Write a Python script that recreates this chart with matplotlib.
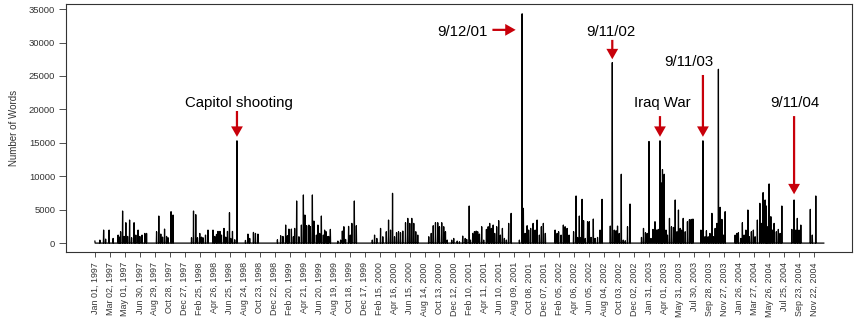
import matplotlib
matplotlib.use("Agg")
import matplotlib.pyplot as plt
import numpy as np

plt.rcParams['font.family'] = ['Liberation Sans', 'DejaVu Sans']

# dias contados a partir de 01/01/1997 (calendario de 365 dias)
n_days = 2920

spike_day = [
    0, 20, 35, 43, 57, 73, 93, 99, 103, 111, 117, 124, 131, 139, 147, 157, 164, 173, 180, 189, 200, 207,
    247, 256, 264, 271, 279, 287, 293, 305, 313,
    387, 395, 404, 411, 420, 427, 433, 443,
    453, 473, 480, 487, 493, 501, 507, 517, 524, 531, 539, 544, 551, 560, 569,
    603, 613, 620, 635, 643, 653,
    731, 744, 753, 764, 771, 777, 787, 795, 800, 808, 817, 827, 835, 841, 848, 857, 863, 871, 877,
    887, 893, 900, 907, 915, 920, 926, 931, 936, 943,
    973, 984, 991, 997, 1004, 1016, 1023, 1029, 1039, 1047,
    1111, 1120, 1129, 1144, 1153, 1167, 1176, 1184, 1192, 1200, 1208, 1216, 1224, 1233, 1244, 1253,
    1261, 1269, 1277, 1285, 1293,
    1337, 1347, 1355, 1364, 1373, 1380, 1389, 1397, 1404, 1411,
    1429, 1437, 1451, 1460, 1473, 1483, 1489, 1499, 1504, 1513, 1520, 1527, 1533, 1540, 1549, 1557,
    1568, 1575, 1581, 1588, 1595, 1601, 1609, 1617, 1624, 1632, 1640, 1648, 1657, 1667,
    1700, 1711, 1716, 1723, 1731, 1737, 1745, 1755, 1763, 1771, 1780, 1788, 1796, 1804,
    1843, 1851, 1857, 1867, 1876, 1883, 1891, 1899,
    1917, 1927, 1933, 1940, 1947, 1951, 1957, 1964, 1973, 1980, 1987, 1996, 2003, 2013, 2023, 2031,
    2064, 2072, 2080, 2087, 2093, 2100, 2108, 2116, 2124, 2133, 2143,
    2189, 2197, 2205, 2212, 2219, 2227, 2235, 2243, 2249, 2256, 2263, 2268, 2273, 2280, 2287, 2293,
    2301, 2309, 2317, 2324, 2331, 2337, 2344, 2349, 2356, 2364, 2373, 2381, 2388, 2395,
    2427, 2435, 2443, 2449, 2456, 2463, 2471, 2477, 2484, 2491, 2497, 2504, 2511, 2517, 2524,
    2564, 2571, 2577, 2587, 2593, 2600, 2607, 2615, 2621, 2629, 2637, 2644, 2653, 2663, 2669, 2676,
    2684, 2689, 2695, 2700, 2707, 2713, 2720, 2729, 2737, 2744, 2751,
    2791, 2800, 2807, 2813, 2820, 2827,
    2865, 2873, 2887,
]

spike_words = [
    300, 450, 1950, 600, 1950, 700, 1200, 900, 1700, 4800, 1000, 3050, 1000, 3450, 800, 3050, 1200, 1950, 1000, 1200, 1450, 1450,
    1700, 4050, 1350, 900, 2100, 1000, 800, 4700, 4200,
    800, 4800, 4250, 800, 1450, 900, 800, 1200,
    1950, 1950, 1000, 1300, 1750, 1750, 1200, 2200, 900, 1750, 4550, 700, 1750, 500, 15300,
    400, 1350, 700, 1600, 1450, 1350,
    500, 1100, 1000, 2700, 1100, 2100, 2100, 950, 2200, 6300, 950, 2700, 7200, 4200, 2600, 2700, 2450, 7200, 3300,
    1200, 2700, 1450, 4050, 1200, 1950, 1700, 950, 1000, 2050,
    300, 450, 1800, 2450, 550, 2500, 1200, 2950, 6300, 2600,
    450, 1200, 700, 2200, 950, 1700, 3450, 1950, 7450, 950, 1550, 1700, 1550, 1800, 3050, 3700,
    2950, 3700, 2950, 1700, 1200,
    950, 1450, 2600, 3050, 3050, 2450, 3050, 2450, 1700, 450,
    450, 700, 300, 200, 1050, 700, 550, 5550, 450, 1450, 1700, 1800, 1700, 1350, 2450, 450,
    2050, 2450, 2950, 2200, 2700, 1450, 2450, 3350, 1200, 2200, 700, 450, 2950, 4450,
    450, 34300, 5200, 1450, 2600, 1950, 2200, 2950, 1950, 3450, 1200, 2450, 2950, 1450,
    1950, 1450, 1700, 1200, 2700, 2450, 2200, 1200,
    1700, 7050, 850, 4050, 850, 6550, 3350, 700, 3200, 3200, 850, 3600, 700, 850, 1950, 6550,
    2550, 27000, 1950, 1850, 2550, 1450, 10300, 450, 350, 2450, 5850,
    850, 2200, 1550, 1450, 15200, 700, 2050, 3200, 1950, 2050, 15300, 9000, 11000, 10300, 1950, 1200,
    3700, 2450, 2350, 6450, 1700, 4950, 2200, 1950, 3700, 1700, 3200, 3500, 3550, 3600,
    1950, 15300, 950, 1850, 950, 1450, 4450, 950, 2200, 2950, 26000, 5350, 3550, 1200, 4700,
    1200, 1450, 1550, 700, 3050, 1200, 1950, 4950, 950, 1700, 1950, 950, 3450, 5950, 2950, 7550,
    6450, 5550, 2450, 8850, 3950, 1950, 2950, 1700, 2050, 1450, 5550,
    2050, 6450, 1950, 3700, 1950, 2700,
    5050, 1200, 7050,
]

tick_labels = [
    "Jan 01, 1997", "Mar 02, 1997", "May 01, 1997", "Jun 30, 1997", "Aug 29, 1997", "Oct 28, 1997",
    "Dec 27, 1997", "Feb 25, 1998", "Apr 26, 1998", "Jun 25, 1998", "Aug 24, 1998", "Oct 23, 1998",
    "Dec 22, 1998", "Feb 20, 1999", "Apr 21, 1999", "Jun 20, 1999", "Aug 19, 1999", "Oct 18, 1999",
    "Dec 17, 1999", "Feb 15, 2000", "Apr 16, 2000", "Jun 15, 2000", "Aug 14, 2000", "Oct 13, 2000",
    "Dec 12, 2000", "Feb 10, 2001", "Apr 11, 2001", "Jun 10, 2001", "Aug 09, 2001", "Oct 08, 2001",
    "Dec 07, 2001", "Feb 05, 2002", "Apr 06, 2002", "Jun 05, 2002", "Aug 04, 2002", "Oct 03, 2002",
    "Dec 02, 2002", "Jan 31, 2003", "Apr 01, 2003", "May 31, 2003", "Jul 30, 2003", "Sep 28, 2003",
    "Nov 27, 2003", "Jan 26, 2004", "Mar 27, 2004", "May 26, 2004", "Jul 25, 2004", "Sep 23, 2004",
    "Nov 22, 2004",
]

# eventos anotados: (texto, dia do pico)
event_text = ["Capitol shooting", "9/12/01", "9/11/02", "Iraq War", "9/11/03", "9/11/04"]
event_day = [569, 1711, 2072, 2263, 2435, 2800]

RED = '#c8000a'

words = np.zeros(n_days)
words[spike_day] = spike_words

fig = plt.figure(figsize=(8.55, 3.3), dpi=100)
ax = fig.add_axes([0.0768, 0.237, 0.9197, 0.7495])

ax.plot(np.arange(n_days), words, color='black', linewidth=0.9)

ax.set_xlim(-117, 3032)
ax.set_ylim(-1300, 35700)

ax.set_xticks(np.arange(len(tick_labels)) * 60)
ax.set_xticklabels(tick_labels, rotation=90, fontsize=6.4, color='#333333')
ax.set_yticks(np.arange(0, 35001, 5000))
ax.set_yticklabels([str(v) for v in range(0, 35001, 5000)], fontsize=6.8, color='#333333')
ax.tick_params(axis='x', length=3.5, width=0.6, color='#333333', pad=4)
ax.tick_params(axis='y', length=5, width=0.6, color='#333333', pad=2.5)
for s in ax.spines.values():
    s.set_linewidth(0.8)
    s.set_color('#333333')

ax.set_ylabel("Number of Words", fontsize=7, color='#333333', labelpad=7)

estilo = 'simple,head_width=0.85,head_length=0.75,tail_width=0.16'

def seta(x0, y0, x1, y1):
    ax.annotate('', xy=(x1, y1), xytext=(x0, y0),
                arrowprops=dict(arrowstyle=estilo, fc=RED, ec='none',
                                shrinkA=0, shrinkB=0, mutation_scale=10))

# Capitol shooting
d = event_day[0]
ax.text(d + 6, 20960, event_text[0], ha='center', va='center', fontsize=10.8)
seta(d, 19760, d, 15900)
# 9/12/01 (seta horizontal)
d = event_day[1]
ax.text(d - 138, 31650, event_text[1], ha='right', va='center', fontsize=10.8)
seta(d - 119, 31900, d - 26, 31900)
# 9/11/02
d = event_day[2]
ax.text(d - 6, 31650, event_text[2], ha='center', va='center', fontsize=10.8)
seta(d, 30400, d, 27500)
# Iraq War
d = event_day[3]
ax.text(d + 8, 20930, event_text[3], ha='center', va='center', fontsize=10.8)
seta(d, 19000, d, 15900)
# 9/11/03
d = event_day[4]
ax.text(d - 58, 27050, event_text[4], ha='center', va='center', fontsize=10.8)
seta(d, 25150, d, 15900)
# 9/11/04
d = event_day[5]
ax.text(d + 5, 20930, event_text[5], ha='center', va='center', fontsize=10.8)
seta(d, 19000, d, 7300)

fig.savefig("out.png", dpi=100)
